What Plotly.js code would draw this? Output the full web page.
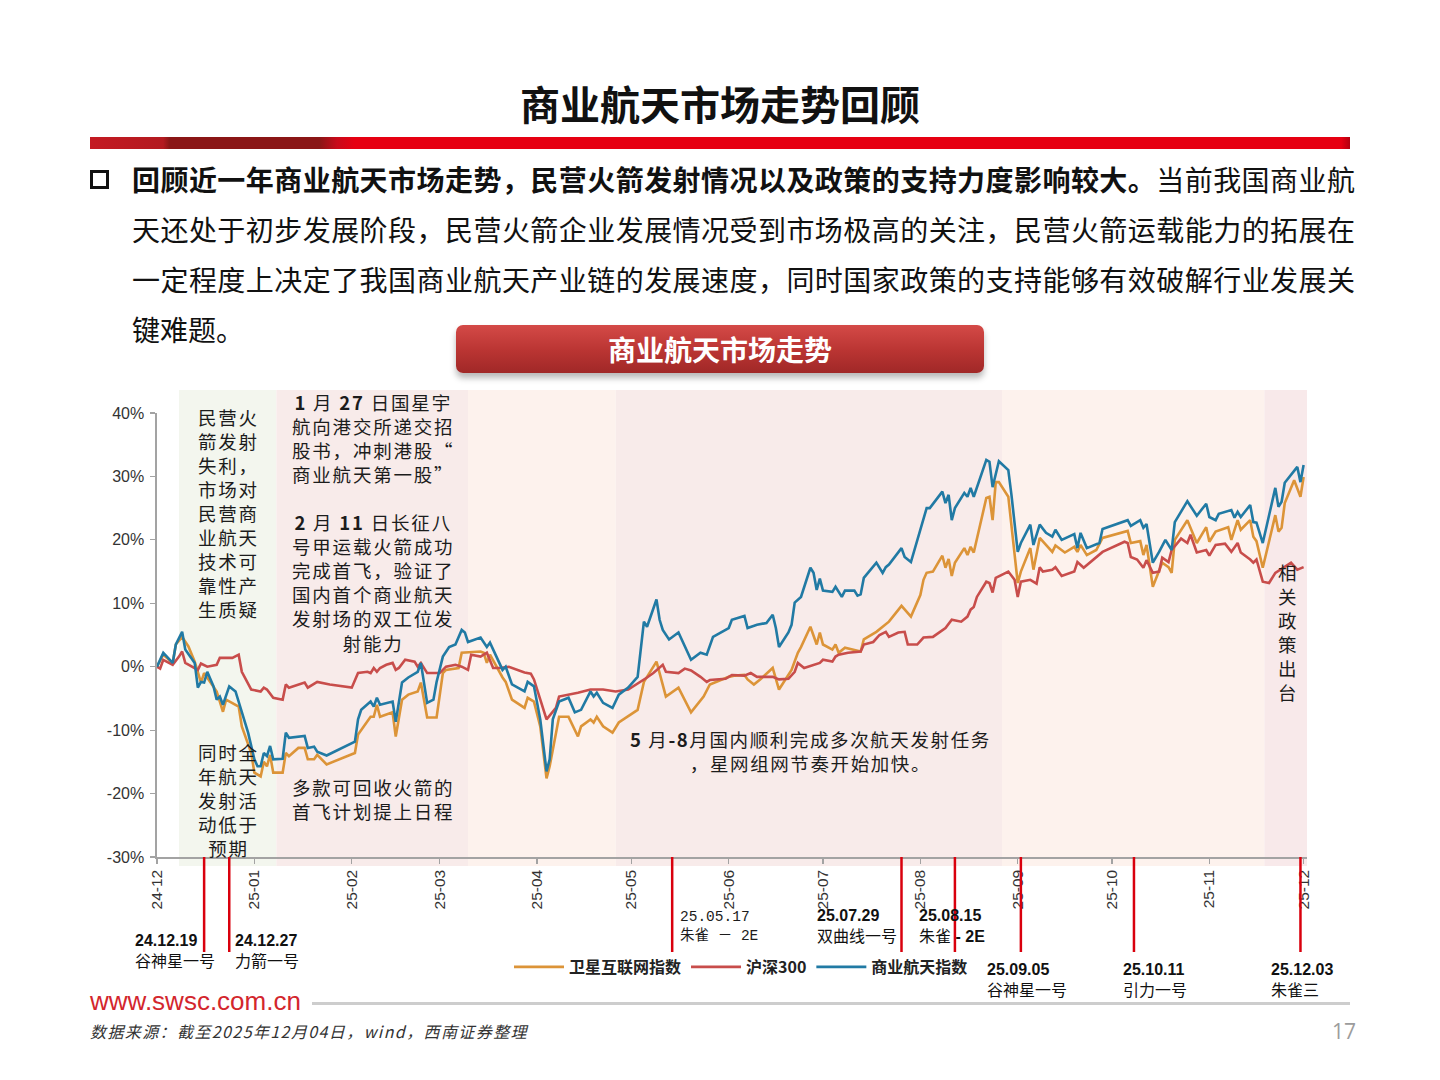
<!DOCTYPE html>
<html>
<head>
<meta charset="utf-8">
<script src="https://cdn.plot.ly/plotly-3.0.1.min.js"></script>
<style>
  html, body { margin: 0; padding: 0; background: #fff; }
  #slide { position: relative; width: 1440px; height: 1080px; overflow: hidden;
           font-family: "Noto Sans CJK SC", sans-serif; color: #111; }
  #chart { position: absolute; left: 0; top: 0; width: 1440px; height: 1080px; z-index: 2; }
  .title { position: absolute; left: 0; top: 78px; width: 1440px; text-align: center;
           font-size: 40px; font-weight: 700; line-height: 50px; color: #111; }
  .redbar { position: absolute; left: 90px; top: 137px; width: 1260px; height: 12px;
            background: linear-gradient(90deg, #c41a22 0%, #b31a20 5.8%, #8a1616 6.3%, #8a1616 18.2%,
                        #c80a1a 19.6%, #e60012 21%, #e60012 99.3%, #b3000f 100%); }
  .bullet { position: absolute; left: 90px; top: 170px; width: 13px; height: 13px;
            border: 3px solid #111; }
  .para { position: absolute; left: 132px; width: 1223px; height: 50px; font-size: 28px;
          line-height: 50px; text-align: justify; text-align-last: justify; color: #111; }
  .para b { font-weight: 700; }
  .para.last { text-align: left; text-align-last: left; }
  .banner { position: absolute; left: 456px; top: 325px; width: 528px; height: 48px;
            border-radius: 7px; background: linear-gradient(#d44a47, #b93432 55%, #a02827);
            box-shadow: 0 5px 6px rgba(0,0,0,0.28); color: #fff; font-size: 28px;
            font-weight: 700; text-align: center; line-height: 48px; }
  .site { position: absolute; left: 90px; top: 986px; font-family: "Liberation Sans", Arial, sans-serif;
          font-size: 26px; line-height: 30px; color: #d3262d; }
  .rule { position: absolute; left: 312px; top: 1002px; width: 1038px; height: 3px; background: #cdcdcd; }
  .source { position: absolute; left: 90px; top: 1020px; font-size: 16px; font-style: italic;
            letter-spacing: 1.4px; line-height: 22px; color: #333; }
  .page { position: absolute; left: 1332px; top: 1018px; font-family: "Open Sans", sans-serif;
          font-size: 21px; line-height: 26px; color: #9c9c9c; }
</style>
</head>
<body>
<div id="slide">
  <div class="title">商业航天市场走势回顾</div>
  <div class="redbar"></div>
  <div class="bullet"></div>
  <div class="para" style="top:154px"><b>回顾近一年商业航天市场走势，民营火箭发射情况以及政策的支持力度影响较大。</b>当前我国商业航</div>
  <div class="para" style="top:204px">天还处于初步发展阶段，民营火箭企业发展情况受到市场极高的关注，民营火箭运载能力的拓展在</div>
  <div class="para" style="top:254px">一定程度上决定了我国商业航天产业链的发展速度，同时国家政策的支持能够有效破解行业发展关</div>
  <div class="para last" style="top:304px">键难题。</div>
  <div class="banner">商业航天市场走势</div>
  <div class="site">www.swsc.com.cn</div>
  <div class="rule"></div>
  <div class="source">数据来源：截至2025年12月04日，wind，西南证券整理</div>
  <div class="page">17</div>
  <div id="chart"></div>
</div>
<script>
// Cumulative change since 2024-12-04 (%), [date, value]
const satelliteIndex = [
  ['2024-12-04',0],['2024-12-06',1.9],['2024-12-09',0.6],['2024-12-10',3.5],['2024-12-12',4.7],
  ['2024-12-14',3.2],['2024-12-16',0.8],['2024-12-18',-2.5],['2024-12-19',-1.0],['2024-12-23',-3.9],
  ['2024-12-25',-7.1],['2024-12-26',-5.2],['2024-12-30',-6.3],['2024-12-31',-9.4],['2025-01-03',-13.6],
  ['2025-01-04',-16.7],['2025-01-06',-17.3],['2025-01-07',-15.0],['2025-01-08',-15.7],['2025-01-09',-13.9],
  ['2025-01-10',-16.7],['2025-01-13',-16.7],['2025-01-14',-13.6],['2025-01-15',-14.1],['2025-01-18',-12.8],
  ['2025-01-20',-12.8],['2025-01-21',-14.6],['2025-01-23',-14.6],['2025-01-24',-13.9],['2025-01-27',-15.4],
  ['2025-02-05',-13.6],['2025-02-06',-10.7],['2025-02-10',-7.9],['2025-02-11',-7.9],['2025-02-12',-6.0],
  ['2025-02-13',-7.9],['2025-02-17',-7.2],['2025-02-18',-11.0],['2025-02-20',-5.2],['2025-02-22',-4.4],
  ['2025-02-25',-3.9],['2025-02-26',-2.5],['2025-02-28',-8.0],['2025-03-03',-8.0],['2025-03-05',-1.0],
  ['2025-03-06',-0.5],['2025-03-10',-0.2],['2025-03-11',2.2],['2025-03-17',2.4],['2025-03-18',2.2],
  ['2025-03-19',0.6],['2025-03-20',1.9],['2025-03-24',-1.7],['2025-03-25',-2.4],['2025-03-27',-5.2],
  ['2025-03-31',-6.5],['2025-04-01',-4.9],['2025-04-03',-5.5],['2025-04-05',-9.4],['2025-04-07',-17.6],
  ['2025-04-08',-15.7],['2025-04-10',-10.4],['2025-04-11',-7.9],['2025-04-14',-7.9],['2025-04-17',-11.0],
  ['2025-04-18',-9.4],['2025-04-21',-8.3],['2025-04-22',-8.8],['2025-04-23',-7.9],['2025-04-25',-9.4],
  ['2025-04-28',-10.4],['2025-04-30',-8.8],['2025-05-06',-6.8],['2025-05-08',-2.4],['2025-05-12',0.8],
  ['2025-05-13',-1.0],['2025-05-15',-4.7],['2025-05-19',-3.3],['2025-05-23',-7.2],['2025-05-27',-4.7],
  ['2025-05-29',-2.8],['2025-06-04',-1.6],['2025-06-06',-1.4],['2025-06-09',-1.3],['2025-06-10',-2.0],
  ['2025-06-12',-2.8],['2025-06-14',-2.0],['2025-06-18',-0.2],['2025-06-20',-3.6],['2025-06-24',-0.5],
  ['2025-06-26',2.2],['2025-06-27',3.1],['2025-06-30',6.3],['2025-07-02',3.5],['2025-07-03',5.4],
  ['2025-07-04',3.5],['2025-07-07',2.7],['2025-07-08',3.5],['2025-07-09',2.2],['2025-07-11',3.0],
  ['2025-07-16',2.4],['2025-07-17',4.3],['2025-07-21',5.5],['2025-07-23',6.3],['2025-07-25',7.1],
  ['2025-07-29',9.6],['2025-08-01',7.9],['2025-08-04',11.3],['2025-08-05',13.7],['2025-08-06',14.8],
  ['2025-08-08',15.0],['2025-08-11',17.5],['2025-08-12',15.6],['2025-08-13',17.0],['2025-08-14',14.3],
  ['2025-08-15',16.4],['2025-08-18',18.7],['2025-08-19',17.6],['2025-08-20',18.9],['2025-08-21',18.0],
  ['2025-08-25',26.6],['2025-08-26',26.8],['2025-08-27',23.1],['2025-08-28',29.1],['2025-08-29',29.1],
  ['2025-09-01',26.8],['2025-09-04',13.2],['2025-09-05',15.0],['2025-09-08',18.7],['2025-09-09',15.3],
  ['2025-09-11',20.3],['2025-09-15',18.1],['2025-09-16',19.1],['2025-09-19',18.0],['2025-09-22',18.9],
  ['2025-09-23',18.1],['2025-09-24',19.2],['2025-09-26',17.6],['2025-09-29',18.4],['2025-10-01',20.3],
  ['2025-10-09',21.4],['2025-10-10',19.5],['2025-10-13',19.8],['2025-10-14',17.6],['2025-10-15',19.2],
  ['2025-10-17',12.6],['2025-10-20',16.4],['2025-10-22',15.7],['2025-10-23',14.8],['2025-10-24',20.0],
  ['2025-10-28',23.1],['2025-10-31',19.5],['2025-11-03',22.0],['2025-11-04',19.7],['2025-11-06',21.3],
  ['2025-11-10',22.0],['2025-11-11',20.0],['2025-11-13',23.1],['2025-11-14',21.6],['2025-11-17',23.1],
  ['2025-11-18',20.5],['2025-11-19',19.8],['2025-11-21',15.6],['2025-11-25',23.9],['2025-11-26',21.3],
  ['2025-11-27',21.9],['2025-11-28',25.8],['2025-12-01',29.4],['2025-12-03',26.8],['2025-12-04',29.9]
];

const csi300 = [
  ['2024-12-04',0],['2024-12-05',-0.3],['2024-12-06',1.1],['2024-12-09',0.3],['2024-12-11',1.6],
  ['2024-12-12',2.4],['2024-12-13',0.6],['2024-12-17',-0.5],['2024-12-18',0.5],['2024-12-20',0.0],
  ['2024-12-23',0.3],['2024-12-24',1.4],['2024-12-28',1.4],['2024-12-30',1.9],['2024-12-31',-0.8],
  ['2025-01-03',-3.6],['2025-01-06',-3.9],['2025-01-07',-3.3],['2025-01-08',-3.6],['2025-01-10',-4.9],
  ['2025-01-13',-5.2],['2025-01-14',-2.8],['2025-01-15',-3.3],['2025-01-18',-2.8],['2025-01-20',-2.5],
  ['2025-01-21',-3.3],['2025-01-24',-2.4],['2025-01-28',-2.8],['2025-02-04',-3.3],['2025-02-06',-1.0],
  ['2025-02-09',-0.8],['2025-02-10',-1.0],['2025-02-11',-0.2],['2025-02-12',-0.8],['2025-02-13',-0.2],
  ['2025-02-15',0.3],['2025-02-17',0.6],['2025-02-18',-0.5],['2025-02-19',-0.2],['2025-02-21',1.1],
  ['2025-02-24',0.8],['2025-02-25',0.0],['2025-02-26',0.6],['2025-02-28',-1.0],['2025-03-04',-1.0],
  ['2025-03-06',0.0],['2025-03-09',0.3],['2025-03-11',0.0],['2025-03-13',-0.5],['2025-03-14',1.9],
  ['2025-03-17',1.6],['2025-03-19',2.2],['2025-03-21',-0.2],['2025-03-23',-0.2],['2025-03-26',0.0],
  ['2025-03-31',-0.9],['2025-04-02',-1.1],['2025-04-03',-2.0],['2025-04-07',-8.3],['2025-04-10',-6.5],
  ['2025-04-11',-4.7],['2025-04-17',-4.1],['2025-04-21',-3.6],['2025-04-25',-3.6],['2025-04-29',-3.9],
  ['2025-05-03',-3.6],['2025-05-07',-2.4],['2025-05-09',-1.7],['2025-05-11',-1.0],['2025-05-14',0.3],
  ['2025-05-15',-0.8],['2025-05-19',-1.0],['2025-05-21',-0.3],['2025-05-23',-0.6],['2025-05-26',-1.6],
  ['2025-05-28',-2.4],['2025-05-29',-2.1],['2025-06-03',-1.9],['2025-06-05',-1.3],['2025-06-09',-1.4],
  ['2025-06-11',-1.0],['2025-06-13',-1.6],['2025-06-18',-1.6],['2025-06-20',-2.0],['2025-06-23',-1.9],
  ['2025-06-25',-0.8],['2025-06-26',0.6],['2025-06-28',-0.2],['2025-07-03',0.6],['2025-07-04',1.1],
  ['2025-07-07',0.8],['2025-07-08',1.6],['2025-07-09',1.9],['2025-07-12',2.2],['2025-07-16',2.4],
  ['2025-07-17',3.5],['2025-07-20',3.9],['2025-07-22',5.0],['2025-07-24',5.5],['2025-07-25',4.7],
  ['2025-07-28',5.4],['2025-07-30',5.5],['2025-07-31',3.5],['2025-08-03',3.5],['2025-08-05',4.6],
  ['2025-08-08',4.7],['2025-08-12',6.1],['2025-08-14',7.4],['2025-08-17',7.1],['2025-08-19',7.9],
  ['2025-08-20',9.0],['2025-08-21',9.4],['2025-08-22',11.0],['2025-08-25',13.4],['2025-08-26',13.2],
  ['2025-08-27',11.7],['2025-08-28',14.0],['2025-08-30',14.5],['2025-09-01',15.0],['2025-09-03',13.7],
  ['2025-09-04',11.0],['2025-09-05',13.4],['2025-09-08',13.7],['2025-09-10',13.1],['2025-09-11',15.7],
  ['2025-09-12',15.0],['2025-09-15',15.3],['2025-09-16',15.7],['2025-09-18',14.3],['2025-09-22',15.0],
  ['2025-09-23',16.5],['2025-09-25',15.6],['2025-10-01',18.1],['2025-10-08',19.7],['2025-10-09',19.5],
  ['2025-10-10',17.3],['2025-10-12',16.9],['2025-10-14',15.6],['2025-10-15',16.8],['2025-10-17',14.8],
  ['2025-10-19',15.0],['2025-10-20',17.2],['2025-10-22',16.5],['2025-10-23',18.4],['2025-10-26',20.2],
  ['2025-10-28',19.5],['2025-10-29',20.8],['2025-10-31',18.0],['2025-11-03',18.4],['2025-11-04',17.5],
  ['2025-11-06',19.2],['2025-11-09',19.4],['2025-11-11',18.1],['2025-11-13',19.5],['2025-11-14',18.0],
  ['2025-11-17',16.9],['2025-11-18',16.4],['2025-11-19',16.9],['2025-11-21',13.4],['2025-11-23',13.2],
  ['2025-11-25',14.8],['2025-11-30',16.4],['2025-12-02',15.3],['2025-12-04',15.7]
];

const aerospaceIndex = [
  ['2024-12-04',0],['2024-12-06',2.2],['2024-12-09',0.6],['2024-12-10',3.5],['2024-12-12',5.5],
  ['2024-12-13',2.7],['2024-12-16',0.6],['2024-12-17',-3.3],['2024-12-18',-2.4],['2024-12-19',-2.5],
  ['2024-12-20',-0.8],['2024-12-22',-3.1],['2024-12-23',-5.2],['2024-12-24',-4.7],['2024-12-25',-6.0],
  ['2024-12-27',-3.1],['2024-12-29',-3.9],['2024-12-31',-7.0],['2025-01-02',-10.4],['2025-01-04',-14.6],
  ['2025-01-05',-15.7],['2025-01-06',-15.7],['2025-01-07',-13.6],['2025-01-08',-14.1],['2025-01-09',-12.5],
  ['2025-01-10',-14.6],['2025-01-13',-14.5],['2025-01-14',-10.4],['2025-01-15',-11.2],['2025-01-20',-10.9],
  ['2025-01-21',-12.8],['2025-01-23',-12.6],['2025-01-24',-13.4],['2025-01-27',-14.0],['2025-02-05',-11.8],
  ['2025-02-06',-8.3],['2025-02-07',-6.8],['2025-02-10',-5.5],['2025-02-11',-6.3],['2025-02-12',-4.9],
  ['2025-02-13',-6.0],['2025-02-17',-5.5],['2025-02-18',-8.7],['2025-02-20',-2.5],['2025-02-22',-1.7],
  ['2025-02-25',-0.8],['2025-02-26',0.6],['2025-02-28',-5.7],['2025-03-02',-5.2],['2025-03-03',-2.4],
  ['2025-03-05',1.6],['2025-03-07',3.1],['2025-03-09',3.5],['2025-03-11',5.8],['2025-03-12',5.4],
  ['2025-03-13',3.9],['2025-03-17',4.6],['2025-03-19',3.1],['2025-03-20',3.8],['2025-03-24',-0.5],
  ['2025-03-25',0.0],['2025-03-27',-2.8],['2025-03-31',-3.9],['2025-04-01',-2.4],['2025-04-03',-3.1],
  ['2025-04-05',-8.3],['2025-04-07',-16.5],['2025-04-08',-14.6],['2025-04-09',-8.3],['2025-04-11',-5.5],
  ['2025-04-14',-4.9],['2025-04-16',-7.2],['2025-04-18',-6.8],['2025-04-21',-3.9],['2025-04-22',-4.7],
  ['2025-04-23',-4.1],['2025-04-25',-5.7],['2025-04-28',-6.5],['2025-04-30',-4.4],['2025-05-03',-3.3],
  ['2025-05-06',-1.6],['2025-05-08',7.1],['2025-05-09',6.3],['2025-05-12',10.6],['2025-05-13',7.4],
  ['2025-05-14',5.8],['2025-05-16',4.3],['2025-05-19',5.4],['2025-05-23',1.1],['2025-05-26',2.2],
  ['2025-05-28',1.9],['2025-05-30',4.7],['2025-06-04',6.1],['2025-06-05',7.4],['2025-06-09',8.0],
  ['2025-06-10',6.1],['2025-06-13',6.6],['2025-06-16',6.9],['2025-06-18',8.2],['2025-06-19',6.1],
  ['2025-06-20',3.1],['2025-06-23',5.4],['2025-06-24',6.6],['2025-06-25',10.1],['2025-06-27',11.0],
  ['2025-06-30',15.6],['2025-07-01',14.8],['2025-07-02',12.1],['2025-07-03',13.9],['2025-07-04',12.0],
  ['2025-07-07',11.8],['2025-07-08',12.6],['2025-07-10',11.0],['2025-07-11',12.0],['2025-07-14',12.0],
  ['2025-07-15',11.2],['2025-07-16',11.4],['2025-07-17',14.0],['2025-07-21',16.4],['2025-07-23',14.8],
  ['2025-07-24',15.7],['2025-07-25',16.1],['2025-07-29',18.7],['2025-07-30',17.3],['2025-08-01',16.5],
  ['2025-08-06',25.0],['2025-08-07',25.0],['2025-08-11',27.6],['2025-08-12',25.8],['2025-08-13',27.1],
  ['2025-08-14',23.1],['2025-08-15',25.0],['2025-08-18',27.4],['2025-08-19',26.8],['2025-08-20',28.2],
  ['2025-08-21',26.8],['2025-08-25',32.6],['2025-08-26',32.3],['2025-08-27',28.3],['2025-08-29',32.4],
  ['2025-09-01',31.0],['2025-09-02',27.1],['2025-09-04',18.1],['2025-09-05',19.5],['2025-09-08',22.4],
  ['2025-09-09',19.2],['2025-09-11',22.4],['2025-09-13',21.1],['2025-09-15',20.5],['2025-09-16',21.6],
  ['2025-09-18',20.0],['2025-09-22',20.9],['2025-09-23',18.7],['2025-09-24',21.1],['2025-09-26',18.7],
  ['2025-09-30',19.5],['2025-10-01',21.7],['2025-10-09',23.1],['2025-10-10',22.2],['2025-10-13',23.1],
  ['2025-10-14',21.9],['2025-10-15',22.5],['2025-10-17',16.4],['2025-10-19',18.1],['2025-10-21',20.0],
  ['2025-10-23',18.4],['2025-10-24',22.8],['2025-10-28',26.1],['2025-10-31',23.8],['2025-11-03',25.7],
  ['2025-11-04',23.6],['2025-11-06',23.1],['2025-11-07',24.1],['2025-11-11',24.7],['2025-11-12',23.5],
  ['2025-11-13',24.4],['2025-11-14',23.6],['2025-11-17',25.5],['2025-11-18',22.8],['2025-11-19',22.7],
  ['2025-11-21',19.5],['2025-11-25',28.2],['2025-11-26',25.2],['2025-11-27',26.0],['2025-11-28',29.0],
  ['2025-12-02',31.5],['2025-12-03',29.1],['2025-12-04',31.8]
];

const seriesNames = ['卫星互联网指数', '沪深300', '商业航天指数'];

const yTickVals = [-30, -20, -10, 0, 10, 20, 30, 40];
const yTickText = ['-30%', '-20%', '-10%', '0%', '10%', '20%', '30%', '40%'];

// Launch events marked under the axis
const eventDates = ['2024-12-19', '2024-12-27', '2025-05-17', '2025-07-29',
                    '2025-08-15', '2025-09-05', '2025-10-11', '2025-12-03'];
const eventNames = ['谷神星一号', '力箭一号', '朱雀－2E', '双曲线一号',
                    '朱雀-2E', '谷神星一号', '引力一号', '朱雀三'];

// ---- layout geometry (pixels of the 1440x1080 page) ----
const L = 157, R = 1307, T = 413, B = 857;
const fx = p => (p - L) / (R - L);
const fy = p => (B - p) / (B - T);

const CJK = '"Noto Sans CJK SC", sans-serif';
const MIX = '"Liberation Sans", "Noto Sans CJK SC", sans-serif';
const MONO = '"Liberation Mono", "Noto Sans CJK SC", monospace';

const colors = ['#dc9438', '#c84d4b', '#217aa4'];
const seriesData = [satelliteIndex, csi300, aerospaceIndex];

const traces = seriesData.map((s, i) => ({
  type: 'scatter', mode: 'lines', name: seriesNames[i],
  x: s.map(d => d[0]), y: s.map(d => d[1]),
  line: { color: colors[i], width: 2.6 },
  hoverinfo: 'skip'
}));

// background phase bands
const bandEdges = ['2024-12-11', '2025-01-11', '2025-03-13', '2025-04-29',
                   '2025-08-30', '2025-11-21 12:00', '2025-12-05 02:00'];
const bandFills = ['#f3f6ee', '#f8ebea', '#fdf2ed', '#f8ebea', '#fdf2ed', '#f8e9ea'];

const shapes = [];
bandFills.forEach((c, i) => shapes.push({
  type: 'rect', xref: 'x', yref: 'paper', layer: 'below',
  x0: bandEdges[i], x1: bandEdges[i + 1], y0: fy(866), y1: fy(390),
  fillcolor: c, line: { width: 0 }
}));
eventDates.forEach(d => shapes.push({
  type: 'line', xref: 'x', yref: 'paper', layer: 'above',
  x0: d, x1: d, y0: fy(952), y1: 0,
  line: { color: '#d9000d', width: 2.5 }
}));

// widen the glyph pitch of multi-line CJK notes
const spaced = (lines, px) =>
  lines.map(s => '<span style="letter-spacing:' + px + 'px">' + s + '</span>').join('<br>');

function note(text, x, y, extra) {
  return Object.assign({
    text, xref: 'paper', yref: 'paper', x: fx(x), y: fy(y),
    showarrow: false, xanchor: 'center', yanchor: 'top', align: 'center',
    font: { family: CJK, size: 18.5, color: '#1c1c1c' }
  }, extra || {});
}

const shortDate = d => d.slice(2).replace(/-/g, '.');

const annotations = [
  note(spaced(['民营火', '箭发射', '失利，', '市场对', '民营商', '业航天', '技术可', '靠性产', '生质疑'], 1.8), 228, 402),
  note(spaced(['<b>1</b> 月 <b>27</b> 日国星宇', '航向港交所递交招', '股书，冲刺港股“', '商业航天第一股”', '\u00a0',
               '<b>2</b> 月 <b>11</b> 日长征八', '号甲运载火箭成功', '完成首飞，验证了', '国内首个商业航天',
               '发射场的双工位发', '射能力'], 1.8), 373, 387),
  note(spaced(['同时全', '年航天', '发射活', '动低于', '预期'], 1.8), 228, 737),
  note(spaced(['多款可回收火箭的', '首飞计划提上日程'], 1.8), 373, 772),
  note(spaced(['<b>5</b> 月<b>-8</b>月国内顺利完成多次航天发射任务', '，星网组网节奏开始加快。'], 1.6), 810, 724),
  note('相<br>关<br>政<br>策<br>出<br>台', 1287, 557)
];

// event labels
const eventLabelPos = [[133, 930], [233, 930], [678, 907], [815, 905],
                       [917, 905], [985, 959], [1121, 959], [1269, 959]];
eventDates.forEach((d, i) => {
  const [px, py] = eventLabelPos[i];
  let text, font;
  if (i === 2) {
    text = shortDate(d) + '<br>朱雀 － 2E';
    font = { family: MONO, size: 14.5, color: '#1c1c1c' };
  } else if (i === 4) {
    text = '<b>' + shortDate(d) + '</b><br>朱雀<b> - 2E</b>';
    font = { family: MIX, size: 16, color: '#111' };
  } else {
    text = '<b>' + shortDate(d) + '</b><br>' + eventNames[i];
    font = { family: MIX, size: 16, color: '#111' };
  }
  annotations.push(note(text, px, py, { xanchor: 'left', align: 'left', font }));
});

const axisGrey = '#a3a3a3';
const layout = {
  width: 1440, height: 1080,
  margin: { l: L, r: 1440 - R, t: T, b: 1080 - B, pad: 0 },
  paper_bgcolor: 'rgba(0,0,0,0)', plot_bgcolor: 'rgba(0,0,0,0)',
  showlegend: true,
  legend: {
    orientation: 'h', x: fx(509), y: fy(967), xanchor: 'left', yanchor: 'middle',
    font: { family: CJK, size: 16, color: '#222', weight: 'bold' },
    itemwidth: 50,
    bgcolor: 'rgba(0,0,0,0)', traceorder: 'normal'
  },
  xaxis: {
    type: 'date', range: ['2024-12-04', '2025-12-05 02:00'],
    tick0: '2024-12-04', dtick: 'M1', tickformat: '%y-%m', tickangle: -90,
    showgrid: false, zeroline: false, showline: true, linecolor: axisGrey, linewidth: 1.6,
    ticks: 'outside', ticklen: 5, tickwidth: 1.2, tickcolor: axisGrey,
    tickfont: { family: MIX, size: 15.5, color: '#333' }, fixedrange: true
  },
  yaxis: {
    range: [-30, 40], tickvals: yTickVals, ticktext: yTickText,
    showgrid: false, zeroline: false, showline: true, linecolor: axisGrey, linewidth: 1.6,
    ticks: 'outside', ticklen: 5, tickwidth: 1.2, tickcolor: axisGrey, ticklabelstandoff: 3,
    tickfont: { family: MIX, size: 16, color: '#333' }, fixedrange: true
  },
  shapes, annotations
};

Plotly.newPlot('chart', traces, layout, { staticPlot: true, displayModeBar: false });
</script>
</body>
</html>
